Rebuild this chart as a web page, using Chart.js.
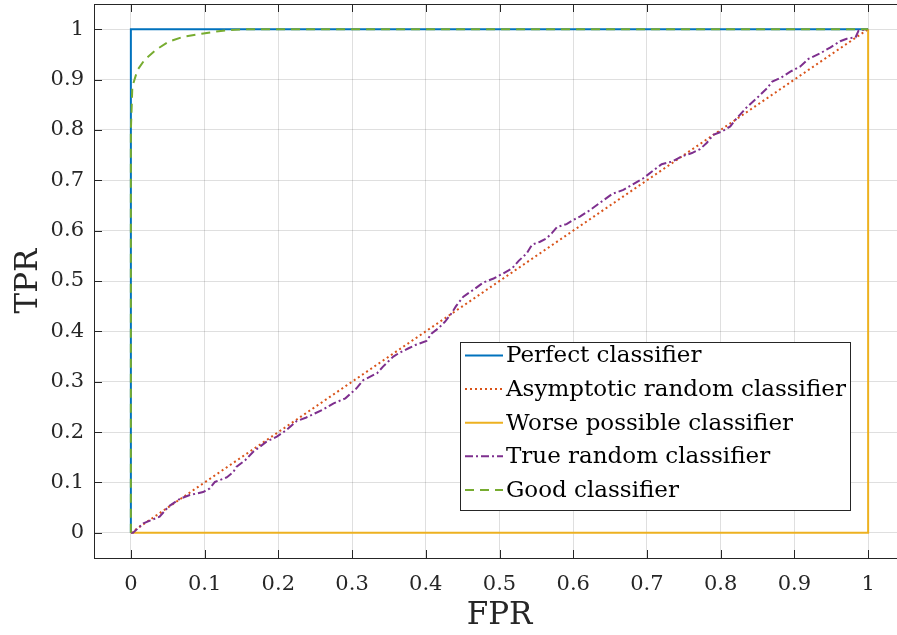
<!DOCTYPE html>
<html>
<head>
<meta charset="utf-8">
<script src="https://cdn.jsdelivr.net/npm/chart.js@4.4.1/dist/chart.umd.min.js"></script>
<style>
  html, body { margin: 0; padding: 0; background: #fff; overflow: hidden; }
  #wrap { width: 910px; height: 635px; }
</style>
</head>
<body>
<div id="wrap"><canvas id="rocChart" width="910" height="635"></canvas></div>
<script>
// Nhãn trục và vạch chia
const xTickValues = [0, 0.1, 0.2, 0.3, 0.4, 0.5, 0.6, 0.7, 0.8, 0.9, 1];
const xTickLabels = ['0', '0.1', '0.2', '0.3', '0.4', '0.5', '0.6', '0.7', '0.8', '0.9', '1'];
const yTickValues = [0, 0.1, 0.2, 0.3, 0.4, 0.5, 0.6, 0.7, 0.8, 0.9, 1];
const yTickLabels = ['0', '0.1', '0.2', '0.3', '0.4', '0.5', '0.6', '0.7', '0.8', '0.9', '1'];

const seriesNames = ['Perfect classifier', 'Asymptotic random classifier', 'Worse possible classifier',
  'True random classifier', 'Good classifier'];

// Dữ liệu từng đường (FPR, TPR)
const perfectFpr = [0, 0, 1];
const perfectTpr = [0, 1, 1];

const asymptoticFpr = [0, 1];
const asymptoticTpr = [0, 1];

const worseFpr = [0, 1, 1];
const worseTpr = [0, 0, 1];

const trueRandomFpr = [
  0, 0.003, 0.017, 0.039, 0.051, 0.067, 0.080, 0.098, 0.107, 0.114,
  0.130, 0.139, 0.143, 0.155, 0.166, 0.184, 0.198, 0.211, 0.225, 0.238,
  0.261, 0.275, 0.291, 0.306, 0.315, 0.334, 0.342, 0.356, 0.365, 0.376,
  0.386, 0.401, 0.408, 0.417, 0.426, 0.435, 0.441, 0.451, 0.467, 0.478,
  0.492, 0.505, 0.517, 0.526, 0.537, 0.544, 0.555, 0.564, 0.571, 0.578,
  0.591, 0.600, 0.609, 0.622, 0.635, 0.653, 0.668, 0.682, 0.695, 0.709,
  0.720, 0.734, 0.748, 0.761, 0.772, 0.781, 0.790, 0.802, 0.813, 0.820,
  0.826, 0.836, 0.849, 0.863, 0.870, 0.881, 0.895, 0.908, 0.919, 0.935,
  0.949, 0.962, 0.971, 0.983, 0.987, 1.000
];
const trueRandomTpr = [
  0, 0.000, 0.019, 0.032, 0.052, 0.068, 0.075, 0.081, 0.088, 0.101,
  0.110, 0.121, 0.131, 0.144, 0.161, 0.181, 0.191, 0.204, 0.222, 0.229,
  0.245, 0.257, 0.267, 0.287, 0.303, 0.317, 0.330, 0.350, 0.358, 0.366,
  0.373, 0.381, 0.396, 0.406, 0.419, 0.436, 0.450, 0.469, 0.485, 0.497,
  0.505, 0.515, 0.525, 0.540, 0.555, 0.572, 0.578, 0.585, 0.595, 0.607,
  0.613, 0.621, 0.628, 0.640, 0.654, 0.673, 0.681, 0.693, 0.704, 0.720,
  0.732, 0.737, 0.748, 0.754, 0.762, 0.774, 0.790, 0.797, 0.807, 0.820,
  0.830, 0.846, 0.863, 0.883, 0.896, 0.903, 0.916, 0.926, 0.941, 0.952,
  0.964, 0.976, 0.981, 0.984, 0.997, 1.000
];

const goodFpr = [0, 0, 0.001, 0.002, 0.009, 0.019, 0.035, 0.051, 0.071, 0.096, 0.119, 0.141, 0.16, 1];
const goodTpr = [0, 0.80, 0.84, 0.886, 0.919, 0.940, 0.960, 0.975, 0.985, 0.991, 0.996, 0.999, 1, 1];

// Màu và kiểu nét giống MATLAB
const colors = ['#0072BD', '#D95319', '#EDB120', '#7E2F8E', '#77AC30'];
const dashes = [[], [2, 3], [], [8, 3, 2, 3], [9, 6]];
const axisColor = '#262626';
const fontFamily = '"DejaVu Serif", "Liberation Serif", serif';

function toPoints(xs, ys) {
  return xs.map((x, i) => ({ x: x, y: ys[i] }));
}

const seriesData = [
  toPoints(perfectFpr, perfectTpr),
  toPoints(asymptoticFpr, asymptoticTpr),
  toPoints(worseFpr, worseTpr),
  toPoints(trueRandomFpr, trueRandomTpr),
  toPoints(goodFpr, goodTpr)
];

// Bỏ phần đệm tự động do nhãn gây ra
function noPadding(s) {
  s.paddingLeft = 0;
  s.paddingRight = 0;
  s.paddingTop = 0;
  s.paddingBottom = 0;
}

// Khung trục và vạch chia hướng vào trong
const framePlugin = {
  id: 'frame',
  afterDatasetsDraw(chart) {
    const { ctx, scales } = chart;
    const left = scales.x.getPixelForValue(-0.05);
    const right = scales.x.getPixelForValue(1.05);
    const top = scales.y.getPixelForValue(1.05);
    const bottom = scales.y.getPixelForValue(-0.05);
    const tl = 8;
    ctx.save();
    ctx.strokeStyle = axisColor;
    ctx.lineWidth = 1;
    ctx.beginPath();
    xTickValues.forEach(v => {
      const px = Math.round(scales.x.getPixelForValue(v)) + 0.5;
      ctx.moveTo(px, bottom); ctx.lineTo(px, bottom - tl);
      ctx.moveTo(px, top); ctx.lineTo(px, top + tl);
    });
    yTickValues.forEach(v => {
      const py = Math.round(scales.y.getPixelForValue(v)) + 0.5;
      ctx.moveTo(left, py); ctx.lineTo(left + tl, py);
      ctx.moveTo(right, py); ctx.lineTo(right - tl, py);
    });
    ctx.stroke();
    ctx.strokeRect(Math.round(left) + 0.5, Math.round(top) + 0.5,
      Math.round(right - left), Math.round(bottom - top));
    ctx.restore();
  }
};

// Chú thích vẽ bên trong vùng biểu đồ
const legendPlugin = {
  id: 'boxLegend',
  afterDraw(chart) {
    const ctx = chart.ctx;
    const box = { x: 460.5, y: 342.5, w: 390, h: 168 };
    const rowH = 33.6;
    ctx.save();
    ctx.fillStyle = '#fff';
    ctx.fillRect(box.x, box.y, box.w, box.h);
    ctx.strokeStyle = axisColor;
    ctx.lineWidth = 1;
    ctx.strokeRect(box.x, box.y, box.w, box.h);
    ctx.font = '23px ' + fontFamily;
    ctx.textBaseline = 'middle';
    ctx.textAlign = 'left';
    seriesNames.forEach((name, i) => {
      const cy = box.y + 13 + rowH * i;
      ctx.strokeStyle = colors[i];
      ctx.lineWidth = 2;
      ctx.setLineDash(dashes[i]);
      ctx.beginPath();
      ctx.moveTo(465, cy);
      ctx.lineTo(503, cy);
      ctx.stroke();
      ctx.setLineDash([]);
      ctx.fillStyle = '#000';
      ctx.fillText(name, 506, cy + 1);
    });
    ctx.restore();
  }
};

const ctx = document.getElementById('rocChart').getContext('2d');
new Chart(ctx, {
  type: 'line',
  data: {
    datasets: seriesData.map((pts, i) => ({
      label: seriesNames[i],
      data: pts,
      borderColor: colors[i],
      borderWidth: 2,
      borderDash: dashes[i],
      pointRadius: 0,
      tension: 0,
      fill: false,
      order: 5 - i
    }))
  },
  options: {
    responsive: false,
    devicePixelRatio: 1,
    animation: false,
    layout: { padding: { left: 0, top: 4, right: 5, bottom: 0 } },
    plugins: {
      legend: { display: false },
      tooltip: { enabled: false }
    },
    scales: {
      x: {
        type: 'linear',
        min: -0.05,
        max: 1.05,
        afterBuildTicks: s => { s.ticks = xTickValues.map(v => ({ value: v })); },
        afterFit: s => { s.height = 77; noPadding(s); },
        grid: { color: 'rgba(38,38,38,0.15)', drawTicks: false },
        border: { display: false },
        ticks: {
          padding: 14,
          color: axisColor,
          maxRotation: 0,
          font: { family: fontFamily, size: 21 },
          callback: (v, i) => xTickLabels[i]
        },
        title: {
          display: true,
          text: 'FPR',
          color: axisColor,
          font: { family: fontFamily, size: 31 },
          padding: { top: 0, bottom: 0 }
        }
      },
      y: {
        type: 'linear',
        min: -0.05,
        max: 1.05,
        afterBuildTicks: s => { s.ticks = yTickValues.map(v => ({ value: v })); },
        afterFit: s => { s.width = 94; noPadding(s); },
        grid: { color: 'rgba(38,38,38,0.15)', drawTicks: false },
        border: { display: false },
        ticks: {
          padding: 10,
          color: axisColor,
          font: { family: fontFamily, size: 21 },
          callback: (v, i) => yTickLabels[i]
        },
        title: {
          display: true,
          text: 'TPR',
          color: axisColor,
          font: { family: fontFamily, size: 31 },
          padding: { top: 10, bottom: 0 }
        }
      }
    }
  },
  plugins: [framePlugin, legendPlugin]
});
</script>
</body>
</html>
